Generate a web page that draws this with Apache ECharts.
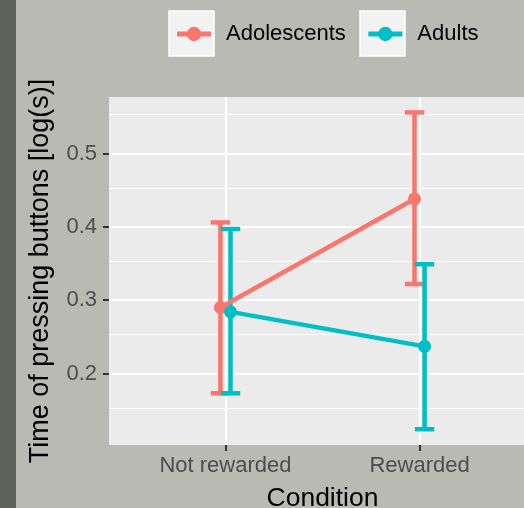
<!DOCTYPE html>
<html><head><meta charset="utf-8">
<script src="https://cdn.jsdelivr.net/npm/echarts@6/dist/echarts.min.js"></script>
<style>html,body{margin:0;padding:0;background:#b8bab3;} #c{width:524px;height:508px;}</style>
</head><body><div id="c"></div>
<script>
const categories = ['Not rewarded', 'Rewarded'];
const groups = ['Adolescents', 'Adults'];
const adolescentMean = [0.290, 0.438];
const adolescentLow = [0.173, 0.322];
const adolescentHigh = [0.406, 0.556];
const adultMean = [0.284, 0.237];
const adultLow = [0.173, 0.124];
const adultHigh = [0.397, 0.349];
const yTicks = [0.2, 0.3, 0.4, 0.5];

const colors = ['#F8766D', '#00BFC4'];
const catPos = categories.map((c, i) => i + 1);
const dodge = [-0.026, 0.026];
const FONT = 'Liberation Sans';

function pts(means, gi) { return means.map((m, i) => [catPos[i] + dodge[gi], m]); }
function bars(lo, hi, gi) { return lo.map((l, i) => [catPos[i] + dodge[gi], l, hi[i]]); }

function errRender(color) {
  return function (params, api) {
    const x = api.value(0), lo = api.value(1), hi = api.value(2);
    const pLo = api.coord([x, lo]), pHi = api.coord([x, hi]);
    const half = api.size([0.05, 0])[0];
    const st = { stroke: color, lineWidth: 4.5, lineCap: 'butt' };
    return { type: 'group', children: [
      { type: 'line', shape: { x1: pLo[0], y1: pLo[1], x2: pHi[0], y2: pHi[1] }, style: st },
      { type: 'line', shape: { x1: pLo[0] - half, y1: pLo[1], x2: pLo[0] + half, y2: pLo[1] }, style: st },
      { type: 'line', shape: { x1: pHi[0] - half, y1: pHi[1], x2: pHi[0] + half, y2: pHi[1] }, style: st }
    ]};
  };
}

const chart = echarts.init(document.getElementById('c'));
chart.setOption({
  backgroundColor: '#b8bab3',
  animation: false,
  textStyle: { fontFamily: FONT },
  graphic: [
    { type: 'rect', shape: { x: 0, y: 0, width: 16, height: 508 }, style: { fill: '#5e605a' }, z: -1 },
    { type: 'rect', shape: { x: 169, y: 11, width: 45, height: 45 }, style: { fill: '#f2f2f2', stroke: '#ffffff', lineWidth: 1.5 }, z: 0 },
    { type: 'rect', shape: { x: 360, y: 11, width: 45, height: 45 }, style: { fill: '#f2f2f2', stroke: '#ffffff', lineWidth: 1.5 }, z: 0 }
  ],
  legend: {
    data: groups,
    left: 174.5, top: 23, padding: 0,
    itemWidth: 34, itemHeight: 18, itemGap: 20,
    lineStyle: { width: 5 },
    textStyle: { fontSize: 22, color: '#000', fontFamily: FONT, padding: [0, 0, 0, 10] },
    z: 5
  },
  grid: { left: 109, top: 97, width: 427, height: 348, show: true, backgroundColor: '#ebebeb', borderWidth: 0, containLabel: false, outerBoundsMode: 'none' },
  xAxis: {
    type: 'value', min: 0.4, max: 2.6,
    name: 'Condition', nameLocation: 'middle', nameGap: 40,
    nameTextStyle: { fontSize: 26.5, color: '#000', fontFamily: FONT },
    axisLine: { show: false },
    axisTick: { show: true, length: 6, lineStyle: { color: '#333', width: 2 }, customValues: catPos },
    axisLabel: { customValues: catPos, fontSize: 22, color: '#4d4d4d', margin: 10, fontFamily: FONT,
      formatter: v => categories[Math.round(v) - 1] || '' },
    splitLine: { show: true, lineStyle: { color: '#ffffff', width: 2 } }
  },
  yAxis: {
    type: 'value', min: 0.1025, max: 0.577, interval: 0.1,
    name: 'Time of pressing buttons [log(s)]', nameLocation: 'middle', nameGap: 55,
    nameTextStyle: { fontSize: 27, color: '#000', fontFamily: FONT },
    axisLine: { show: false },
    axisTick: { show: true, length: 6, lineStyle: { color: '#333', width: 2 }, customValues: yTicks },
    axisLabel: { customValues: yTicks, fontSize: 22, color: '#4d4d4d', margin: 12, fontFamily: FONT,
      formatter: v => v.toFixed(1) },
    splitLine: { show: true, lineStyle: { color: '#ffffff', width: 2 } },
    minorTick: { show: false, splitNumber: 2 },
    minorSplitLine: { show: true, lineStyle: { color: '#ffffff', width: 1 } }
  },
  series: [
    { type: 'custom', name: groups[0] + ' CI', renderItem: errRender(colors[0]), data: bars(adolescentLow, adolescentHigh, 0), encode: { x: 0, y: [1, 2] }, z: 2 },
    { type: 'custom', name: groups[1] + ' CI', renderItem: errRender(colors[1]), data: bars(adultLow, adultHigh, 1), encode: { x: 0, y: [1, 2] }, z: 2 },
    { type: 'line', name: groups[0], data: pts(adolescentMean, 0), color: colors[0], lineStyle: { width: 4.5 }, symbol: 'circle', symbolSize: 13, showAllSymbol: true, z: 3 },
    { type: 'line', name: groups[1], data: pts(adultMean, 1), color: colors[1], lineStyle: { width: 4.5 }, symbol: 'circle', symbolSize: 13, showAllSymbol: true, z: 3 }
  ]
});
</script>
</body></html>
